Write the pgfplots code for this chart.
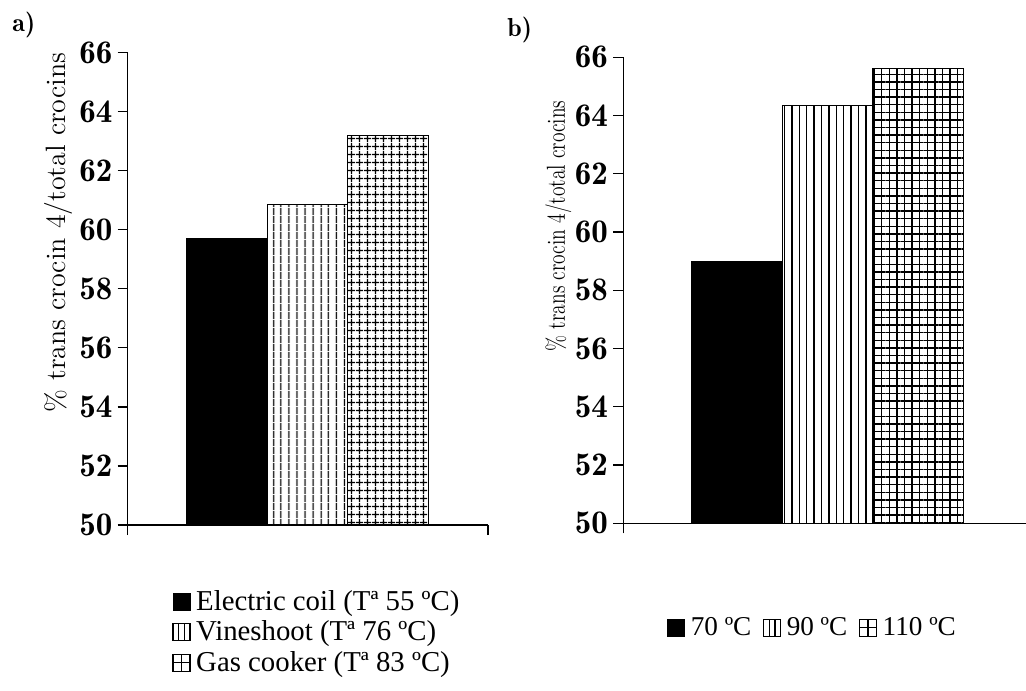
\documentclass[border=0pt]{standalone}
\usepackage{fontspec}
\usepackage{graphicx}
\usepackage{pgfplots}
\pgfplotsset{compat=1.18}
\usetikzlibrary{patterns.meta}
\newfontfamily\tnr{Liberation Serif}
\newfontfamily\lmdemi{Latin Modern Roman Demi}
\begin{document}
\begin{tikzpicture}
\path[use as bounding box] (0,0) rectangle (513pt,345pt);
\pgfplotsset{
  mybase/.style={
    scale only axis,
    axis x line*=bottom, axis y line*=left,
    ymin=50, ymax=66, ytick={50,52,...,66},
    tick align=outside, major tick length=5pt,
    xticklabels={},
    tick style={black, line width=0.6pt},
    axis line style={black, line width=0.7pt},
    /pgf/number format/assume math mode=true,
    yticklabel style={font=\lmdemi\fontsize{16.5}{19}\selectfont, inner sep=2.5pt},
    ybar, bar width=1,
    legend cell align=left,
  },
  blackbar/.style={draw=black, fill=black, bar shift=0pt,
    legend image code/.code={\fill[black] (0pt,-4.25pt) rectangle (8.5pt,4.25pt);}},
  vbar/.style={draw=black, line width=0.5pt, bar shift=0pt, pattern={Lines[angle=90,distance=#1,line width=0.7pt]},
    legend image code/.code={\draw[black,line width=0.6pt,fill=white] (0pt,-4.25pt) rectangle (8.5pt,4.25pt);
      \draw[black,line width=0.6pt] (2.83pt,-4.25pt)--(2.83pt,4.25pt) (5.67pt,-4.25pt)--(5.67pt,4.25pt);}},
  gbar/.style={draw=black, line width=0.5pt, bar shift=0pt, pattern={Hatch[angle=0,distance=#1,line width=0.7pt]},
    legend image code/.code={\draw[black,line width=0.6pt,fill=white] (0pt,-4.25pt) rectangle (8.5pt,4.25pt);
      \draw[black,line width=0.6pt] (4.25pt,-4.25pt)--(4.25pt,4.25pt) (0pt,0pt)--(8.5pt,0pt);}},
}
% ---------- panel a ----------
\begin{axis}[mybase,
  at={(63.85pt,82.5pt)}, anchor=south west,
  width=180.15pt, height=236.15pt,
  xmin=-1.233, xmax=3.242, xtick={-1.233,3.242},
  ylabel={\% trans crocin 4/total crocins},
  ylabel style={at={(axis description cs:-0.174,0.619)}, anchor=base, inner sep=0pt,
    font=\fontsize{14}{17}\selectfont},
  legend style={at={(axis description cs:0.123,-0.1335)}, anchor=north west,
    draw=none, fill=none, inner sep=0pt, row sep=2.2pt,
    font=\tnr\fontsize{14.4}{16}\selectfont,
    nodes={inner sep=0.8pt},
    /tikz/every odd column/.append style={column sep=2pt}},
]
\addplot[blackbar] coordinates {(0,59.7)};
\addplot[vbar=4pt] coordinates {(1,60.85)};
\addplot[gbar=4pt] coordinates {(2,63.2)};
\legend{Electric coil (Tª 55 ºC), Vineshoot (Tª 76 ºC), Gas cooker (Tª 83 ºC)}
\end{axis}
% ---------- panel b ----------
\begin{axis}[mybase,
  at={(311.65pt,83.35pt)}, anchor=south west,
  width=204.1pt, height=233pt,
  xmin=-1.258, xmax=3.258, xtick={-1.258,3.258},
  ylabel={\scalebox{0.75}[1]{\% trans crocin 4/total crocins}},
  ylabel style={at={(axis description cs:-0.143,0.638)}, anchor=base, inner sep=0pt,
    font=\fontsize{13}{16}\selectfont},
  legend columns=3,
  legend style={at={(axis description cs:0.107,-0.197)}, anchor=north west,
    draw=none, fill=none, inner sep=0pt,
    font=\tnr\fontsize{13.6}{16}\selectfont,
    nodes={inner sep=0.8pt},
    /tikz/every odd column/.append style={column sep=2pt},
    /tikz/every even column/.append style={column sep=5pt}},
]
\addplot[blackbar] coordinates {(0,59.0)};
\addplot[vbar=3.7pt] coordinates {(1,64.35)};
\addplot[gbar=3.8pt] coordinates {(2,65.6)};
\legend{70 ºC, 90 ºC, 110 ºC}
\end{axis}
\node[anchor=base west, font=\lmdemi\fontsize{13}{15}\selectfont, inner sep=0pt] at (6pt,329pt) {a)};
\node[anchor=base west, font=\lmdemi\fontsize{13}{15}\selectfont, inner sep=0pt] at (253.5pt,326.5pt) {b)};
\end{tikzpicture}
\end{document}
